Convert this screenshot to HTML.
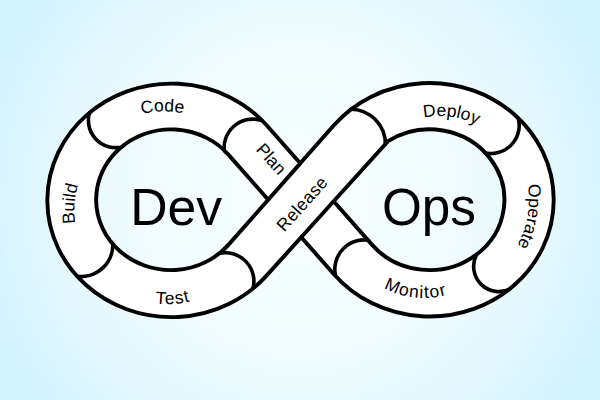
<!DOCTYPE html>
<html><head><meta charset="utf-8"><style>
html,body{margin:0;padding:0;width:600px;height:400px;overflow:hidden;}
svg{display:block;}
text{font-family:"Liberation Sans",sans-serif;fill:#000;}
</style></head><body>
<svg width="600" height="400" viewBox="0 0 600 400">
<defs>
<radialGradient id="bg" cx="300" cy="200" r="328" gradientUnits="userSpaceOnUse">
<stop offset="0" stop-color="#f8feff"/>
<stop offset="0.5" stop-color="#f0fcfe"/>
<stop offset="0.75" stop-color="#e4f8fe"/>
<stop offset="0.9" stop-color="#d9f5fe"/>
<stop offset="1" stop-color="#d3f3fd"/>
</radialGradient>
<mask id="bm" maskUnits="userSpaceOnUse" x="0" y="0" width="600" height="400">
<rect x="0" y="0" width="600" height="400" fill="#000"/>
<path d="M266.62,125.25 L300.25,163.39 L333.88,125.25 A124.22,116.75 0 1 1 333.88,274.25 L301.23,237.21 L266.29,275.86 A124.22,116.75 0 1 1 266.62,125.25 Z M228.61,154.86 A74.85,70.35 0 1 0 228.61,244.64 L268.19,199.75 Z M388.00,141.22 A74.85,70.35 0 1 1 371.89,244.64 L333.68,201.31 Z" fill="#fff" fill-rule="evenodd" stroke="#fff" stroke-width="3.9"/>
</mask>
<path id="pCode" d="M107.19,131.74 L108.76,130.49 L110.35,129.28 L111.96,128.10 L113.61,126.96 L115.28,125.86 L116.97,124.80 L118.68,123.77 L120.42,122.78 L122.18,121.83 L123.96,120.92 L125.76,120.05 L127.58,119.22 L129.42,118.42 L131.27,117.68 L133.14,116.97 L135.03,116.30 L136.93,115.68 L138.84,115.09 L140.77,114.56 L142.71,114.06 L144.65,113.61 L146.61,113.20 L148.58,112.83 L150.55,112.51 L152.53,112.23 L154.52,111.99 L156.51,111.80 L158.50,111.66 L160.50,111.56 L162.50,111.50 L164.50,111.49 L166.50,111.52 L168.50,111.60 L170.49,111.72 L172.49,111.88 L174.48,112.09 L176.46,112.34 L178.44,112.64 L180.41,112.98 L182.37,113.37 L184.32,113.79 L186.27,114.27 L188.20,114.78 L190.12,115.34 L192.03,115.94 L193.92,116.58 L195.80,117.27 L197.67,117.99 L199.51,118.76 L201.34,119.57 L203.15,120.42 L204.95,121.30 L206.72,122.23 L208.47,123.20 L210.20,124.20 L211.90,125.25 L213.58,126.33 L215.24,127.45 L216.87,128.60 L218.48,129.80"/><path id="pDeploy" d="M394.13,130.96 L395.78,129.82 L397.45,128.72 L399.15,127.67 L400.87,126.65 L402.62,125.68 L404.39,124.76 L406.19,123.88 L408.00,123.04 L409.84,122.25 L411.70,121.50 L413.57,120.81 L415.46,120.15 L417.37,119.55 L419.29,118.99 L421.22,118.49 L423.17,118.03 L425.13,117.62 L427.09,117.26 L429.07,116.94 L431.05,116.68 L433.04,116.47 L435.03,116.31 L437.03,116.19 L439.03,116.13 L441.03,116.12 L443.03,116.15 L445.03,116.24 L447.02,116.38 L449.01,116.56 L451.00,116.80 L452.98,117.09 L454.95,117.42 L456.91,117.81 L458.87,118.24 L460.81,118.72 L462.74,119.25 L464.65,119.83 L466.55,120.46 L468.43,121.13 L470.30,121.85 L472.15,122.62 L473.97,123.43 L475.78,124.29 L477.56,125.19 L479.33,126.14 L481.06,127.13 L482.77,128.16 L484.46,129.24 L486.12,130.36 L487.75,131.52 L489.35,132.72 L490.92,133.96 L492.46,135.23 L493.96,136.55 L495.43,137.90 L496.87,139.29 L498.27,140.72 L499.64,142.18 L500.97,143.67 L502.26,145.20"/><path id="pTest" d="M115.57,290.17 L117.30,291.19 L119.04,292.17 L120.80,293.11 L122.59,294.02 L124.39,294.89 L126.20,295.72 L128.04,296.52 L129.89,297.28 L131.75,298.00 L133.63,298.68 L135.53,299.33 L137.43,299.93 L139.35,300.50 L141.28,301.03 L143.22,301.52 L145.17,301.96 L147.13,302.37 L149.09,302.74 L151.07,303.07 L153.05,303.36 L155.03,303.60 L157.02,303.81 L159.01,303.98 L161.01,304.10 L163.01,304.19 L165.01,304.23 L167.01,304.24 L169.01,304.20 L171.00,304.12 L173.00,304.00 L174.99,303.84 L176.98,303.64 L178.97,303.40 L180.95,303.12 L182.92,302.80 L184.89,302.43 L186.85,302.03 L188.80,301.59 L190.74,301.11 L192.67,300.59 L194.59,300.03 L196.50,299.43 L198.39,298.79 L200.28,298.11 L202.14,297.39 L204.00,296.64 L205.83,295.85 L207.65,295.02 L209.46,294.16 L211.24,293.26 L213.01,292.32 L214.76,291.34 L216.48,290.33 L218.19,289.29 L219.87,288.21 L221.53,287.10 L223.17,285.95 L224.79,284.77 L226.38,283.56 L227.94,282.31"/><path id="pMonitor" d="M362.52,271.31 L363.89,272.76 L365.30,274.18 L366.74,275.57 L368.21,276.92 L369.72,278.23 L371.26,279.51 L372.83,280.75 L374.43,281.95 L376.05,283.12 L377.71,284.24 L379.39,285.33 L381.09,286.37 L382.82,287.37 L384.58,288.33 L386.36,289.25 L388.15,290.12 L389.97,290.95 L391.81,291.74 L393.67,292.48 L395.54,293.18 L397.44,293.83 L399.34,294.44 L401.26,295.00 L403.19,295.51 L405.14,295.98 L407.09,296.40 L409.06,296.77 L411.03,297.09 L413.01,297.37 L415.00,297.60 L416.99,297.78 L418.99,297.92 L420.99,298.00 L422.98,298.04 L424.98,298.03 L426.98,297.97 L428.98,297.86 L430.97,297.71 L432.96,297.50 L434.95,297.25 L436.93,296.95 L438.90,296.61 L440.86,296.21 L442.81,295.77 L444.75,295.28 L446.67,294.75 L448.59,294.17 L450.49,293.54 L452.37,292.87 L454.24,292.15 L456.09,291.39 L457.92,290.58 L459.73,289.73 L461.52,288.84 L463.28,287.90 L465.03,286.92 L466.75,285.90 L468.44,284.84 L470.11,283.74 L471.75,282.60"/><path id="pBuild" d="M89.07,261.23 L88.02,259.53 L87.01,257.80 L86.03,256.06 L85.10,254.29 L84.20,252.50 L83.33,250.70 L82.51,248.88 L81.72,247.04 L80.98,245.18 L80.27,243.31 L79.60,241.43 L78.97,239.53 L78.38,237.62 L77.84,235.69 L77.33,233.76 L76.86,231.81 L76.44,229.86 L76.05,227.90 L75.71,225.93 L75.41,223.95 L75.15,221.97 L74.93,219.98 L74.75,217.99 L74.62,215.99 L74.53,213.99 L74.48,211.99 L74.47,209.99 L74.51,207.99 L74.58,206.00 L74.70,204.00 L74.86,202.01 L75.06,200.02 L75.31,198.03 L75.59,196.05 L75.92,194.08 L76.29,192.11 L76.70,190.16 L77.15,188.21 L77.64,186.27 L78.18,184.34 L78.75,182.43 L79.36,180.52 L80.02,178.63 L80.71,176.76 L81.44,174.90 L82.22,173.05 L83.03,171.22 L83.87,169.41 L84.76,167.62 L85.69,165.84 L86.65,164.09 L87.64,162.36 L88.68,160.65 L89.75,158.96 L90.85,157.29 L91.99,155.65 L93.17,154.03 L94.38,152.43 L95.62,150.87 L96.89,149.33"/><path id="pOperate" d="M519.19,157.58 L520.06,159.38 L520.88,161.21 L521.67,163.04 L522.42,164.90 L523.13,166.77 L523.79,168.65 L524.42,170.55 L525.01,172.46 L525.56,174.39 L526.07,176.32 L526.54,178.27 L526.97,180.22 L527.35,182.18 L527.69,184.15 L528.00,186.13 L528.26,188.11 L528.48,190.10 L528.65,192.09 L528.79,194.09 L528.88,196.08 L528.93,198.08 L528.94,200.08 L528.91,202.08 L528.83,204.08 L528.72,206.08 L528.56,208.07 L528.35,210.06 L528.11,212.05 L527.83,214.03 L527.50,216.00 L527.13,217.97 L526.72,219.92 L526.27,221.87 L525.78,223.81 L525.25,225.74 L524.68,227.65 L524.06,229.56 L523.41,231.45 L522.72,233.33 L521.99,235.19 L521.22,237.03 L520.41,238.86 L519.56,240.67 L518.67,242.47 L517.75,244.24 L516.79,245.99 L515.79,247.73 L514.76,249.44 L513.69,251.13 L512.59,252.80 L511.45,254.44 L510.27,256.06 L509.07,257.66 L507.82,259.22 L506.55,260.77 L505.25,262.28 L503.91,263.77 L502.54,265.23 L501.14,266.66 L499.71,268.06"/><path id="pPlan" d="M226.75,118.41 L228.09,119.90 L229.43,121.38 L230.77,122.87 L232.11,124.36 L233.44,125.84 L234.78,127.33 L236.12,128.82 L237.46,130.30 L238.80,131.79 L240.13,133.27 L241.47,134.76 L242.81,136.25 L244.15,137.73 L245.49,139.22 L246.83,140.71 L248.16,142.19 L249.50,143.68 L250.84,145.16 L252.18,146.65 L253.52,148.14 L254.86,149.62 L256.19,151.11 L257.53,152.60 L258.87,154.08 L260.21,155.57 L261.55,157.05 L262.89,158.54 L264.22,160.03 L265.56,161.51 L266.90,163.00 L268.24,164.49 L269.58,165.97 L270.91,167.46 L272.25,168.95 L273.59,170.43 L274.93,171.92 L276.27,173.40 L277.61,174.89 L278.94,176.38 L280.28,177.86 L281.62,179.35 L282.96,180.84 L284.30,182.32 L285.64,183.81 L286.97,185.29 L288.31,186.78 L289.65,188.27 L290.99,189.75 L292.33,191.24 L293.67,192.73 L295.00,194.21 L296.34,195.70 L297.68,197.18 L299.02,198.67 L300.36,200.16 L301.69,201.64 L303.03,203.13 L304.37,204.62 L305.71,206.10 L307.05,207.59"/><path id="pRelease" d="M266.45,252.39 L267.79,250.90 L269.13,249.42 L270.47,247.93 L271.81,246.44 L273.14,244.96 L274.48,243.47 L275.82,241.98 L277.16,240.50 L278.50,239.01 L279.83,237.53 L281.17,236.04 L282.51,234.55 L283.85,233.07 L285.19,231.58 L286.53,230.09 L287.86,228.61 L289.20,227.12 L290.54,225.64 L291.88,224.15 L293.22,222.66 L294.56,221.18 L295.89,219.69 L297.23,218.20 L298.57,216.72 L299.91,215.23 L301.25,213.75 L302.59,212.26 L303.92,210.77 L305.26,209.29 L306.60,207.80 L307.94,206.31 L309.28,204.83 L310.61,203.34 L311.95,201.85 L313.29,200.37 L314.63,198.88 L315.97,197.40 L317.31,195.91 L318.64,194.42 L319.98,192.94 L321.32,191.45 L322.66,189.96 L324.00,188.48 L325.34,186.99 L326.67,185.51 L328.01,184.02 L329.35,182.53 L330.69,181.05 L332.03,179.56 L333.37,178.07 L334.70,176.59 L336.04,175.10 L337.38,173.62 L338.72,172.13 L340.06,170.64 L341.39,169.16 L342.73,167.67 L344.07,166.18 L345.41,164.70 L346.75,163.21"/>
</defs>
<rect x="0" y="0" width="600" height="400" fill="url(#bg)"/>
<g id="fig"><path d="M266.62,125.25 L300.25,163.39 L333.88,125.25 A124.22,116.75 0 1 1 333.88,274.25 L301.23,237.21 L266.29,275.86 A124.22,116.75 0 1 1 266.62,125.25 Z M228.61,154.86 A74.85,70.35 0 1 0 228.61,244.64 L268.19,199.75 Z M388.00,141.22 A74.85,70.35 0 1 1 371.89,244.64 L333.68,201.31 Z" fill="#fff" fill-rule="evenodd" stroke="#000" stroke-width="3.9" stroke-linejoin="miter"/><path d="M268.19,199.75 L300.25,163.39 M301.23,237.21 L333.68,201.31" fill="none" stroke="#000" stroke-width="3.9"/></g>
<g mask="url(#bm)" fill="none" stroke="#000" stroke-width="3.6">
<path d="M90.87,109.02 A27.29,27.29 0 0 0 123.95,146.37"/><path d="M224.81,154.28 A28.78,28.78 0 0 1 262.84,120.88"/><path d="M74.71,275.92 A31.65,31.65 0 0 0 112.38,240.27"/><path d="M219.47,253.34 A28.65,28.65 0 0 1 252.83,289.20"/><path d="M348.52,109.25 A34.93,34.93 0 0 1 385.35,146.46"/><path d="M517.21,114.75 A28.39,28.39 0 0 1 482.71,152.42"/><path d="M476.53,254.64 A25.26,25.26 0 0 0 510.99,288.56"/><path d="M335.47,275.64 A29.50,29.50 0 0 1 370.63,240.57"/>
</g>
<text font-size="17.5"><textPath href="#pCode" startOffset="50%" text-anchor="middle">Code</textPath></text><text font-size="17.5"><textPath href="#pDeploy" startOffset="50%" text-anchor="middle">Deploy</textPath></text><text font-size="17.5" letter-spacing="0.8"><textPath href="#pTest" startOffset="50%" text-anchor="middle">Test</textPath></text><text font-size="17.5" letter-spacing="1.1"><textPath href="#pMonitor" startOffset="50%" text-anchor="middle">Monitor</textPath></text><text font-size="17.5"><textPath href="#pBuild" startOffset="50%" text-anchor="middle">Build</textPath></text><text font-size="17.5"><textPath href="#pOperate" startOffset="50%" text-anchor="middle">Operate</textPath></text><text font-size="17.5"><textPath href="#pPlan" startOffset="50%" text-anchor="middle">Plan</textPath></text><text font-size="17.5" letter-spacing="0.3"><textPath href="#pRelease" startOffset="50%" text-anchor="middle">Release</textPath></text>
<text x="176.2" y="225" font-size="52" text-anchor="middle" textLength="92" lengthAdjust="spacingAndGlyphs">Dev</text>
<text x="429" y="225" font-size="51" text-anchor="middle" textLength="94" lengthAdjust="spacingAndGlyphs">Ops</text>
</svg>
</body></html>
